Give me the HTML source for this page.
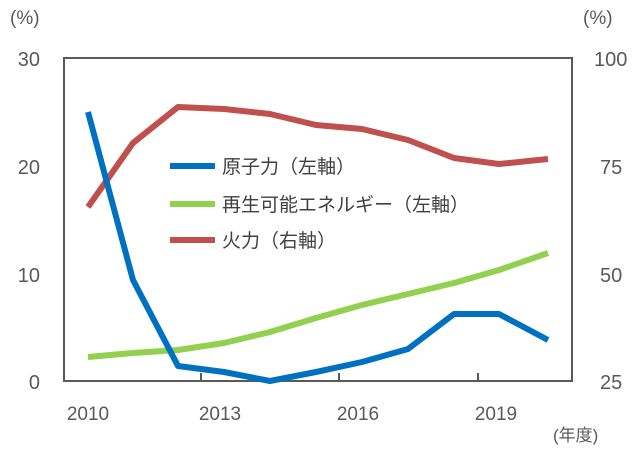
<!DOCTYPE html>
<html><head><meta charset="utf-8"><style>
body{margin:0;background:#fff;}
text{font-family:"Liberation Sans","Noto Sans CJK JP",sans-serif;fill:#595959;}
</style></head><body>
<svg width="640" height="446" xmlns="http://www.w3.org/2000/svg">
<rect x="64" y="58" width="508" height="323" fill="none" stroke="#595959" stroke-width="2"/>
<g stroke="#595959" stroke-width="2">
<line x1="201" y1="381" x2="201" y2="373"/>
<line x1="339" y1="381" x2="339" y2="373"/>
<line x1="478" y1="381" x2="478" y2="373"/>
</g>
<g font-size="20" text-anchor="end">
<text x="40" y="66">30</text><text x="40" y="174">20</text><text x="40" y="282">10</text><text x="40" y="389">0</text>
</g>
<g font-size="20" text-anchor="start">
<text x="594" y="66">100</text><text x="600" y="174">75</text><text x="600" y="282">50</text><text x="600" y="389">25</text>
</g>
<text x="10" y="24" font-size="19">(%)</text>
<text x="583" y="24" font-size="19">(%)</text>
<g font-size="19" text-anchor="middle">
<text x="88" y="420">2010</text><text x="220" y="420">2013</text><text x="358" y="420">2016</text><text x="496" y="420">2019</text>
</g>
<text x="553" y="441" font-size="17">(年度)</text>
<polyline fill="none" stroke="#c0504d" stroke-width="6" stroke-linejoin="round" points="88,207 133,143 178,107 224,109 270,114 316,125 362,129 408,140 454,158 499,164 548,159"/>
<polyline fill="none" stroke="#92d050" stroke-width="6" stroke-linejoin="round" points="88,357 133,353 178,350 224,343 270,332 316,318 362,305 408,294 454,283 499,270 548,253"/>
<polyline fill="none" stroke="#0070c0" stroke-width="6" stroke-linejoin="round" points="88,112 133,280 178,366 224,372 270,381 316,372 362,362 408,349 454,314 499,314 548,340"/>
<line x1="170" y1="166" x2="215" y2="166" stroke="#0070c0" stroke-width="6"/>
<line x1="170" y1="204" x2="215" y2="204" stroke="#92d050" stroke-width="6"/>
<line x1="170" y1="240" x2="215" y2="240" stroke="#c0504d" stroke-width="6"/>
<g font-size="19" fill="#404040">
<text x="222" y="173" style="fill:#404040">原子力（左軸）</text>
<text x="222" y="211" style="fill:#404040">再生可能エネルギー（左軸）</text>
<text x="222" y="247" style="fill:#404040">火力（右軸）</text>
</g>
</svg>
</body></html>
